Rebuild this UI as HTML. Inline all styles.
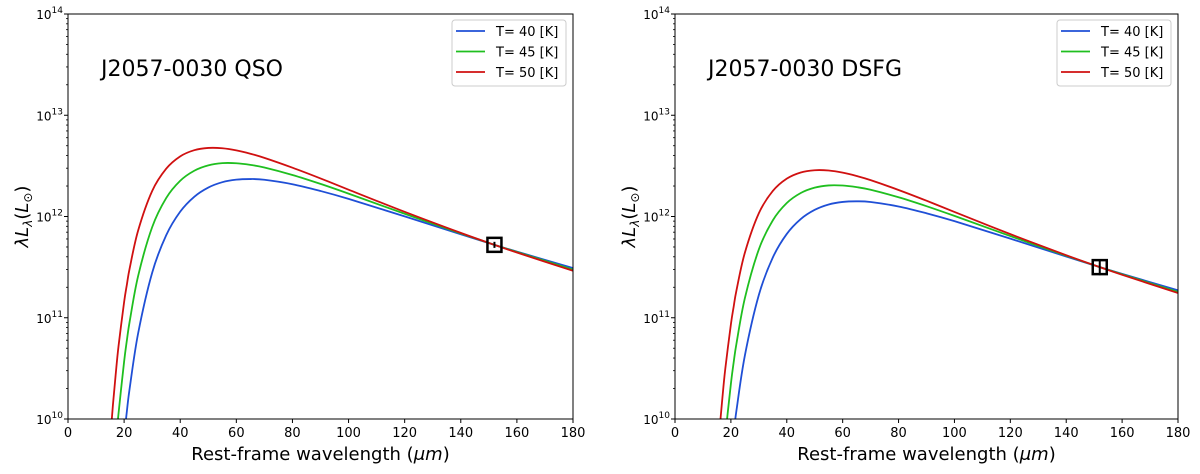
<!DOCTYPE html>
<html><head><meta charset="utf-8"><style>
html,body{margin:0;padding:0;background:#fff;}
svg{display:block;font-family:"DejaVu Sans","Liberation Sans",sans-serif;}
</style></head><body>
<svg id="fig" width="1200" height="474" viewBox="0 0 1200 474" xmlns="http://www.w3.org/2000/svg"></svg>
<script>
const wavelengths = [15,16,17,18,20,21,22,25,30,35,40,45,50,55,60,65,70,80,90,100,120,140,152,160,180];
// log10(lambda L_lambda) read for QSO panel
const qsoT50 = [9.77,10.135,10.44,10.717,11.155,11.33,11.491,11.862,12.252,12.472,12.594,12.655,12.677,12.674,12.653,12.62,12.579,12.482,12.376,12.265,12.046,11.838,11.72,11.644,11.464];
const qsoT45 = [null,null,9.737,10.052,10.567,10.78,10.966,11.413,11.895,12.182,12.353,12.452,12.505,12.527,12.526,12.51,12.484,12.41,12.322,12.226,12.027,11.833,11.72,11.649,11.475];
const qsoT40 = [null,null,null,null,9.827,10.081,10.306,10.847,11.445,11.815,12.048,12.195,12.286,12.339,12.364,12.370,12.363,12.319,12.252,12.174,12.001,11.825,11.72,11.653,11.491];
// DSFG panel
const dsfgT50 = [9.55,9.915,10.22,10.497,10.935,11.11,11.271,11.642,12.032,12.252,12.374,12.435,12.457,12.454,12.433,12.40,12.359,12.262,12.156,12.045,11.826,11.618,11.50,11.424,11.244];
const dsfgT45 = [null,null,9.517,9.832,10.347,10.56,10.746,11.193,11.675,11.962,12.133,12.232,12.285,12.307,12.306,12.29,12.264,12.19,12.102,12.006,11.807,11.613,11.50,11.429,11.255];
const dsfgT40 = [null,null,null,null,9.607,9.861,10.086,10.627,11.225,11.595,11.828,11.975,12.066,12.119,12.144,12.150,12.143,12.099,12.032,11.954,11.781,11.605,11.50,11.433,11.271];
const xTicks = [0,20,40,60,80,100,120,140,160,180];
const yDecades = [10,11,12,13,14];
const seriesLabels = ["T= 40 [K]","T= 45 [K]","T= 50 [K]"];
const colors = ["#1f4fd6","#1fbf1f","#d01010"];
const points = [{name:"qso",x:152,y:11.72,err:0.03},{name:"dsfg",x:152,y:11.50,err:0.08}];

const NS = "http://www.w3.org/2000/svg";
const svg = document.getElementById('fig');
function mk(tag, attrs, parent){const e=document.createElementNS(NS,tag);for(const k in attrs)e.setAttribute(k,attrs[k]);(parent||svg).appendChild(e);return e;}

function smoothPath(pts){
  let d = 'M'+pts[0][0].toFixed(2)+','+pts[0][1].toFixed(2);
  for(let i=0;i<pts.length-1;i++){
    const p0 = pts[i-1]||pts[i], p1=pts[i], p2=pts[i+1], p3=pts[i+2]||pts[i+1];
    const c1x = p1[0]+(p2[0]-p0[0])/6, c1y = p1[1]+(p2[1]-p0[1])/6;
    const c2x = p2[0]-(p3[0]-p1[0])/6, c2y = p2[1]-(p3[1]-p1[1])/6;
    d += 'C'+c1x.toFixed(2)+','+c1y.toFixed(2)+' '+c2x.toFixed(2)+','+c2y.toFixed(2)+' '+p2[0].toFixed(2)+','+p2[1].toFixed(2);
  }
  return d;
}

function panel(x0, x1, title, series, pt, key){
  const y0 = 14, y1 = 419;
  const sx = v => x0 + (v-0)/(180-0)*(x1-x0);
  const sy = v => y1 - (v-10)/(14-10)*(y1-y0);
  const g = mk('g',{});
  
  
  const clipId = 'clip-'+key;
  const cp = mk('clipPath',{id:clipId},g);
  mk('rect',{x:x0,y:y0,width:x1-x0,height:y1-y0},cp);
  series.forEach((vals,i)=>{
    const pts = [];
    vals.forEach((v,j)=>{ if(v===null) return; pts.push([sx(wavelengths[j]), sy(v)]); });
    const p = mk('path',{d:smoothPath(pts),fill:'none',stroke:colors[i],'stroke-width':1.8,'clip-path':'url(#'+clipId+')'},g);
    
    
  });
  const cx = sx(pt.x), cy = sy(pt.y);
  const mg = mk('g',{},g);
  
  
  mk('rect',{x:cx-7,y:cy-7,width:14,height:14,fill:'none',stroke:'#000','stroke-width':2.5},mg);
  mk('line',{x1:cx,x2:cx,y1:sy(pt.y+pt.err),y2:sy(pt.y-pt.err),stroke:'#000','stroke-width':2},mg);
  const fr = mk('rect',{x:x0,y:y0,width:x1-x0,height:y1-y0,fill:'none',stroke:'#000','stroke-width':1},g);
  
  
  xTicks.forEach(t=>{
    const X = sx(t);
    mk('line',{x1:X,x2:X,y1:y1,y2:y1+4,stroke:'#000','stroke-width':1},g);
    const tx = mk('text',{x:X,y:y1+18,'font-size':13,'text-anchor':'middle',fill:'#000'},g);
    tx.textContent = t;
    
    
  });
  yDecades.forEach(d=>{
    const Y = sy(d);
    mk('line',{x1:x0-4,x2:x0,y1:Y,y2:Y,stroke:'#000','stroke-width':1},g);
    const tx = mk('text',{x:x0-5,y:Y+5,'font-size':12,'text-anchor':'end',fill:'#000'},g);
    
    
    const base = mk('tspan',{},tx); base.textContent='10';
    const sup = mk('tspan',{dy:-6,'font-size':9},tx); sup.textContent=String(d);
    if(d<14){ for(let m=2;m<=9;m++){ const YY=sy(d+Math.log10(m)); mk('line',{x1:x0-2,x2:x0,y1:YY,y2:YY,stroke:'#000','stroke-width':0.8},g);} }
  });
  const xl = mk('text',{x:(x0+x1)/2,y:460,'font-size':18,'text-anchor':'middle',fill:'#000'},g);
  xl.innerHTML = 'Rest-frame wavelength (<tspan font-style="italic">μm</tspan>)';
  
  
  const yl = mk('text',{transform:'translate('+(x0-40)+','+((y0+y1)/2)+') rotate(-90)','font-size':18,'text-anchor':'middle',fill:'#000'},g);
  yl.innerHTML = '<tspan font-style="italic">λL</tspan><tspan font-style="italic" font-size="12" dy="4">λ</tspan><tspan dy="-4">(</tspan><tspan font-style="italic">L</tspan><tspan font-size="12" dy="4">⊙</tspan><tspan dy="-4">)</tspan>';
  
  
  const tt = mk('text',{x:x0+33,y:76,'font-size':22,fill:'#000'},g);
  tt.textContent = title;
  
  
  const lg = mk('g',{},g);
  
  
  const lx = x1-121;
  mk('rect',{x:lx,y:20,width:114,height:66,rx:3,fill:'#fff',stroke:'#ccc','stroke-width':1},lg);
  seriesLabels.forEach((s,i)=>{
    const Y = 31 + i*20.5;
    const e = mk('g',{},lg);
    
    
    mk('line',{x1:lx+4,x2:lx+33,y1:Y,y2:Y,stroke:colors[i],'stroke-width':1.8},e);
    const t = mk('text',{x:lx+44,y:Y+5,'font-size':13,fill:'#000'},e);
    t.textContent = s;
  });
}
panel(68, 573, 'J2057-0030 QSO', [qsoT40,qsoT45,qsoT50], points[0], 'qso');
panel(675, 1178, 'J2057-0030 DSFG', [dsfgT40,dsfgT45,dsfgT50], points[1], 'dsfg');
</script>
</body></html>
